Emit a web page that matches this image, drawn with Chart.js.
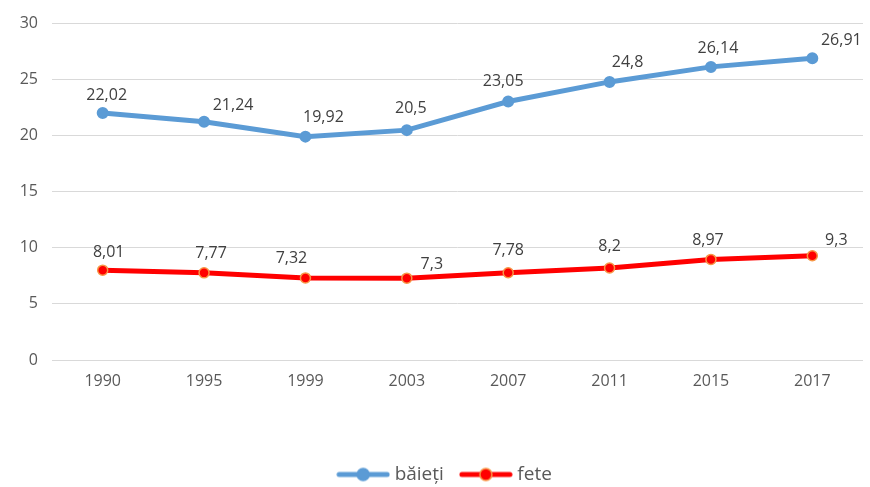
<!DOCTYPE html>
<html>
<head>
<meta charset="utf-8">
<script src="https://cdn.jsdelivr.net/npm/chart.js@4/dist/chart.umd.min.js"></script>
<style>
    html, body { margin: 0; padding: 0; background: #ffffff; }
    #wrap { width: 870px; height: 487px; }
</style>
</head>
<body>
<div id="wrap"><canvas id="lineChart"></canvas></div>
<script>
const YEARS = ['1990', '1995', '1999', '2003', '2007', '2011', '2015', '2017'];
const BAIETI = [22.02, 21.24, 19.92, 20.5, 23.05, 24.8, 26.14, 26.91];
const FETE = [8.01, 7.77, 7.32, 7.3, 7.78, 8.2, 8.97, 9.3];

// label nudges (px) as placed in the original
const SHIFT_BAIETI = [[4, -18], [29, -16], [18, -19], [4, -22], [-5, -20], [18, -19], [7, -18], [29, -18]];
const SHIFT_FETE = [[6, -18], [7, -19], [-14, -19], [25, -14], [0, -22], [0, -22], [-3, -19], [24, -15]];

const COLORS = {
    blue: '#5B9BD5',
    red: '#FF0000',
    orange: '#F79646',
    grid: '#D9D9D9',
    tick: '#595959',
    label: '#404040'
};

const FONT = '"Open Sans", "DejaVu Sans", sans-serif';

function legendMark(lineColor, fill, stroke) {
    var c = document.createElement('canvas');
    c.width = 54;
    c.height = 16;
    var g = c.getContext('2d');
    g.strokeStyle = lineColor;
    g.lineWidth = 5;
    g.lineCap = 'round';
    g.beginPath();
    g.moveTo(3, 8);
    g.lineTo(51, 8);
    g.stroke();
    g.beginPath();
    g.arc(27, 8, 6, 0, Math.PI * 2);
    g.fillStyle = fill;
    g.fill();
    g.lineWidth = 1.5;
    g.strokeStyle = stroke;
    g.stroke();
    return c;
}

const valueLabels = {
    id: 'valueLabels',
    afterDatasetsDraw(chart) {
        var ctx = chart.ctx;
        ctx.save();
        ctx.font = '16px ' + FONT;
        ctx.fillStyle = COLORS.label;
        ctx.textAlign = 'center';
        ctx.textBaseline = 'middle';
        chart.data.datasets.forEach(function (ds, i) {
            var meta = chart.getDatasetMeta(i);
            var shifts = ds.labelShift;
            meta.data.forEach(function (pt, j) {
                var txt = String(ds.data[j]).replace('.', ',');
                ctx.fillText(txt, pt.x + shifts[j][0], pt.y + shifts[j][1]);
            });
        });
        ctx.restore();
    }
};

// the original legend sits a little right of centre
const legendNudge = {
    id: 'legendNudge',
    afterLayout(chart) {
        chart.legend.left += 14;
        chart.legend.right += 14;
    }
};

var data = {
    labels: YEARS,
    datasets: [
        {
            label: 'băieți',
            data: BAIETI,
            labelShift: SHIFT_BAIETI,
            borderColor: COLORS.blue,
            backgroundColor: COLORS.blue,
            borderWidth: 5,
            pointRadius: 5,
            pointBorderWidth: 2,
            pointBackgroundColor: COLORS.blue,
            pointBorderColor: COLORS.blue,
            tension: 0
        },
        {
            label: 'fete',
            data: FETE,
            labelShift: SHIFT_FETE,
            borderColor: COLORS.red,
            backgroundColor: COLORS.red,
            borderWidth: 5,
            pointRadius: 5,
            pointBorderWidth: 1.5,
            pointBackgroundColor: COLORS.red,
            pointBorderColor: COLORS.orange,
            tension: 0
        }
    ]
};

var marks = [
    legendMark(COLORS.blue, COLORS.blue, COLORS.blue),
    legendMark(COLORS.red, COLORS.red, COLORS.orange)
];

var config = {
    type: 'line',
    data: data,
    options: {
        responsive: true,
        maintainAspectRatio: false,
        animation: false,
        layout: {
            padding: { top: 19, right: 5, bottom: -7, left: 0 }
        },
        scales: {
            x: {
                offset: true,
                grid: { display: false, drawTicks: false },
                border: { display: false },
                ticks: {
                    color: COLORS.tick,
                    font: { family: FONT, size: 16 },
                    padding: 12
                },
                afterFit: function (scale) { scale.height = 85; }
            },
            y: {
                min: 0,
                max: 30,
                grid: { color: COLORS.grid, lineWidth: 1, drawTicks: false },
                border: { display: false },
                ticks: {
                    stepSize: 5,
                    color: COLORS.tick,
                    font: { family: FONT, size: 16 },
                    padding: 14
                },
                afterFit: function (scale) { scale.width = 52; }
            }
        },
        plugins: {
            legend: {
                position: 'bottom',
                labels: {
                    usePointStyle: true,
                    pointStyleWidth: 44,
                    padding: 20,
                    color: COLORS.tick,
                    font: { family: FONT, size: 19 },
                    generateLabels: function (chart) {
                        return chart.data.datasets.map(function (ds, i) {
                            return {
                                text: ds.label,
                                pointStyle: marks[i],
                                fillStyle: ds.borderColor,
                                strokeStyle: ds.borderColor,
                                lineWidth: 0,
                                fontColor: COLORS.tick,
                                hidden: false,
                                datasetIndex: i
                            };
                        });
                    }
                }
            },
            tooltip: { enabled: false }
        }
    },
    plugins: [valueLabels, legendNudge]
};

var chartLine = new Chart(document.getElementById('lineChart'), config);
</script>
</body>
</html>
